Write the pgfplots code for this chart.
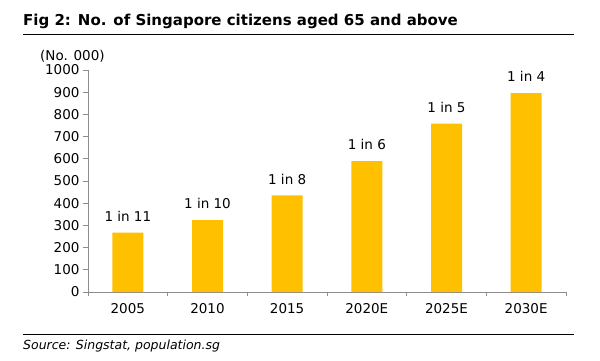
\documentclass[border=0pt]{standalone}
\usepackage{pgfplots}
\pgfplotsset{compat=1.18}
\usepackage{fontspec}
\setmainfont{DejaVu Sans}
\definecolor{barc}{HTML}{FFC000}
\definecolor{axgray}{HTML}{8C8C8C}
\begin{document}
\begin{tikzpicture}[x=1pt,y=1pt]
\path[use as bounding box] (0,0) rectangle (600,360);
\node[anchor=base west, font=\bfseries\fontsize{15}{17}\selectfont, inner sep=0] at (23,335) {Fig 2: No. of Singapore citizens aged 65 and above};
\draw[line width=1.5pt] (23,325.5) -- (574,325.5);
\node[anchor=west, font=\fontsize{13.5}{15}\selectfont, inner sep=0] at (40,304) {(No. 000)};
\draw[line width=1pt] (23,26) -- (574,26);
\node[anchor=west, font=\itshape\fontsize{12.5}{14}\selectfont, inner sep=0] at (23,14) {Source: Singstat, population.sg};
\begin{axis}[
  at={(88pt,68pt)}, anchor=south west,
  scale only axis, width=478pt, height=222pt,
  xmin=-0.5, xmax=5.5, ymin=0, ymax=1000,
  axis x line*=bottom, axis y line*=left,
  axis line style={axgray, line width=1pt},
  tick align=outside,
  ytick={0,100,...,1000},
  xtick={0,1,2,3,4,5},
  xticklabels={2005,2010,2015,2020E,2025E,2030E},
  minor xtick={-0.5,0.5,1.5,2.5,3.5,4.5,5.5},
  major x tick style={draw=none},
  minor x tick style={axgray, line width=0.8pt},
  major y tick style={axgray, line width=0.8pt},
  major tick length=5pt, minor tick length=4pt,
  ticklabel style={font=\fontsize{13.5}{15}\selectfont},
  /pgf/number format/assume math mode=true,
  /pgf/number format/1000 sep={},
  xticklabel style={yshift=-3pt},
  clip=false,
]
\addplot[ybar, bar width=31pt, fill=barc, draw=none,
  nodes near coords, point meta=explicit symbolic,
  every node near coord/.append style={inner sep=0pt, yshift=11pt, font=\fontsize{13.5}{15}\selectfont}]
  table[col sep=comma, row sep=\\, meta=lab] {
x,y,lab\\
0,267,1 in 11\\
1,324,1 in 10\\
2,435,1 in 8\\
3,589,1 in 6\\
4,758,1 in 5\\
5,896,1 in 4\\
};
\end{axis}
\end{tikzpicture}
\end{document}
